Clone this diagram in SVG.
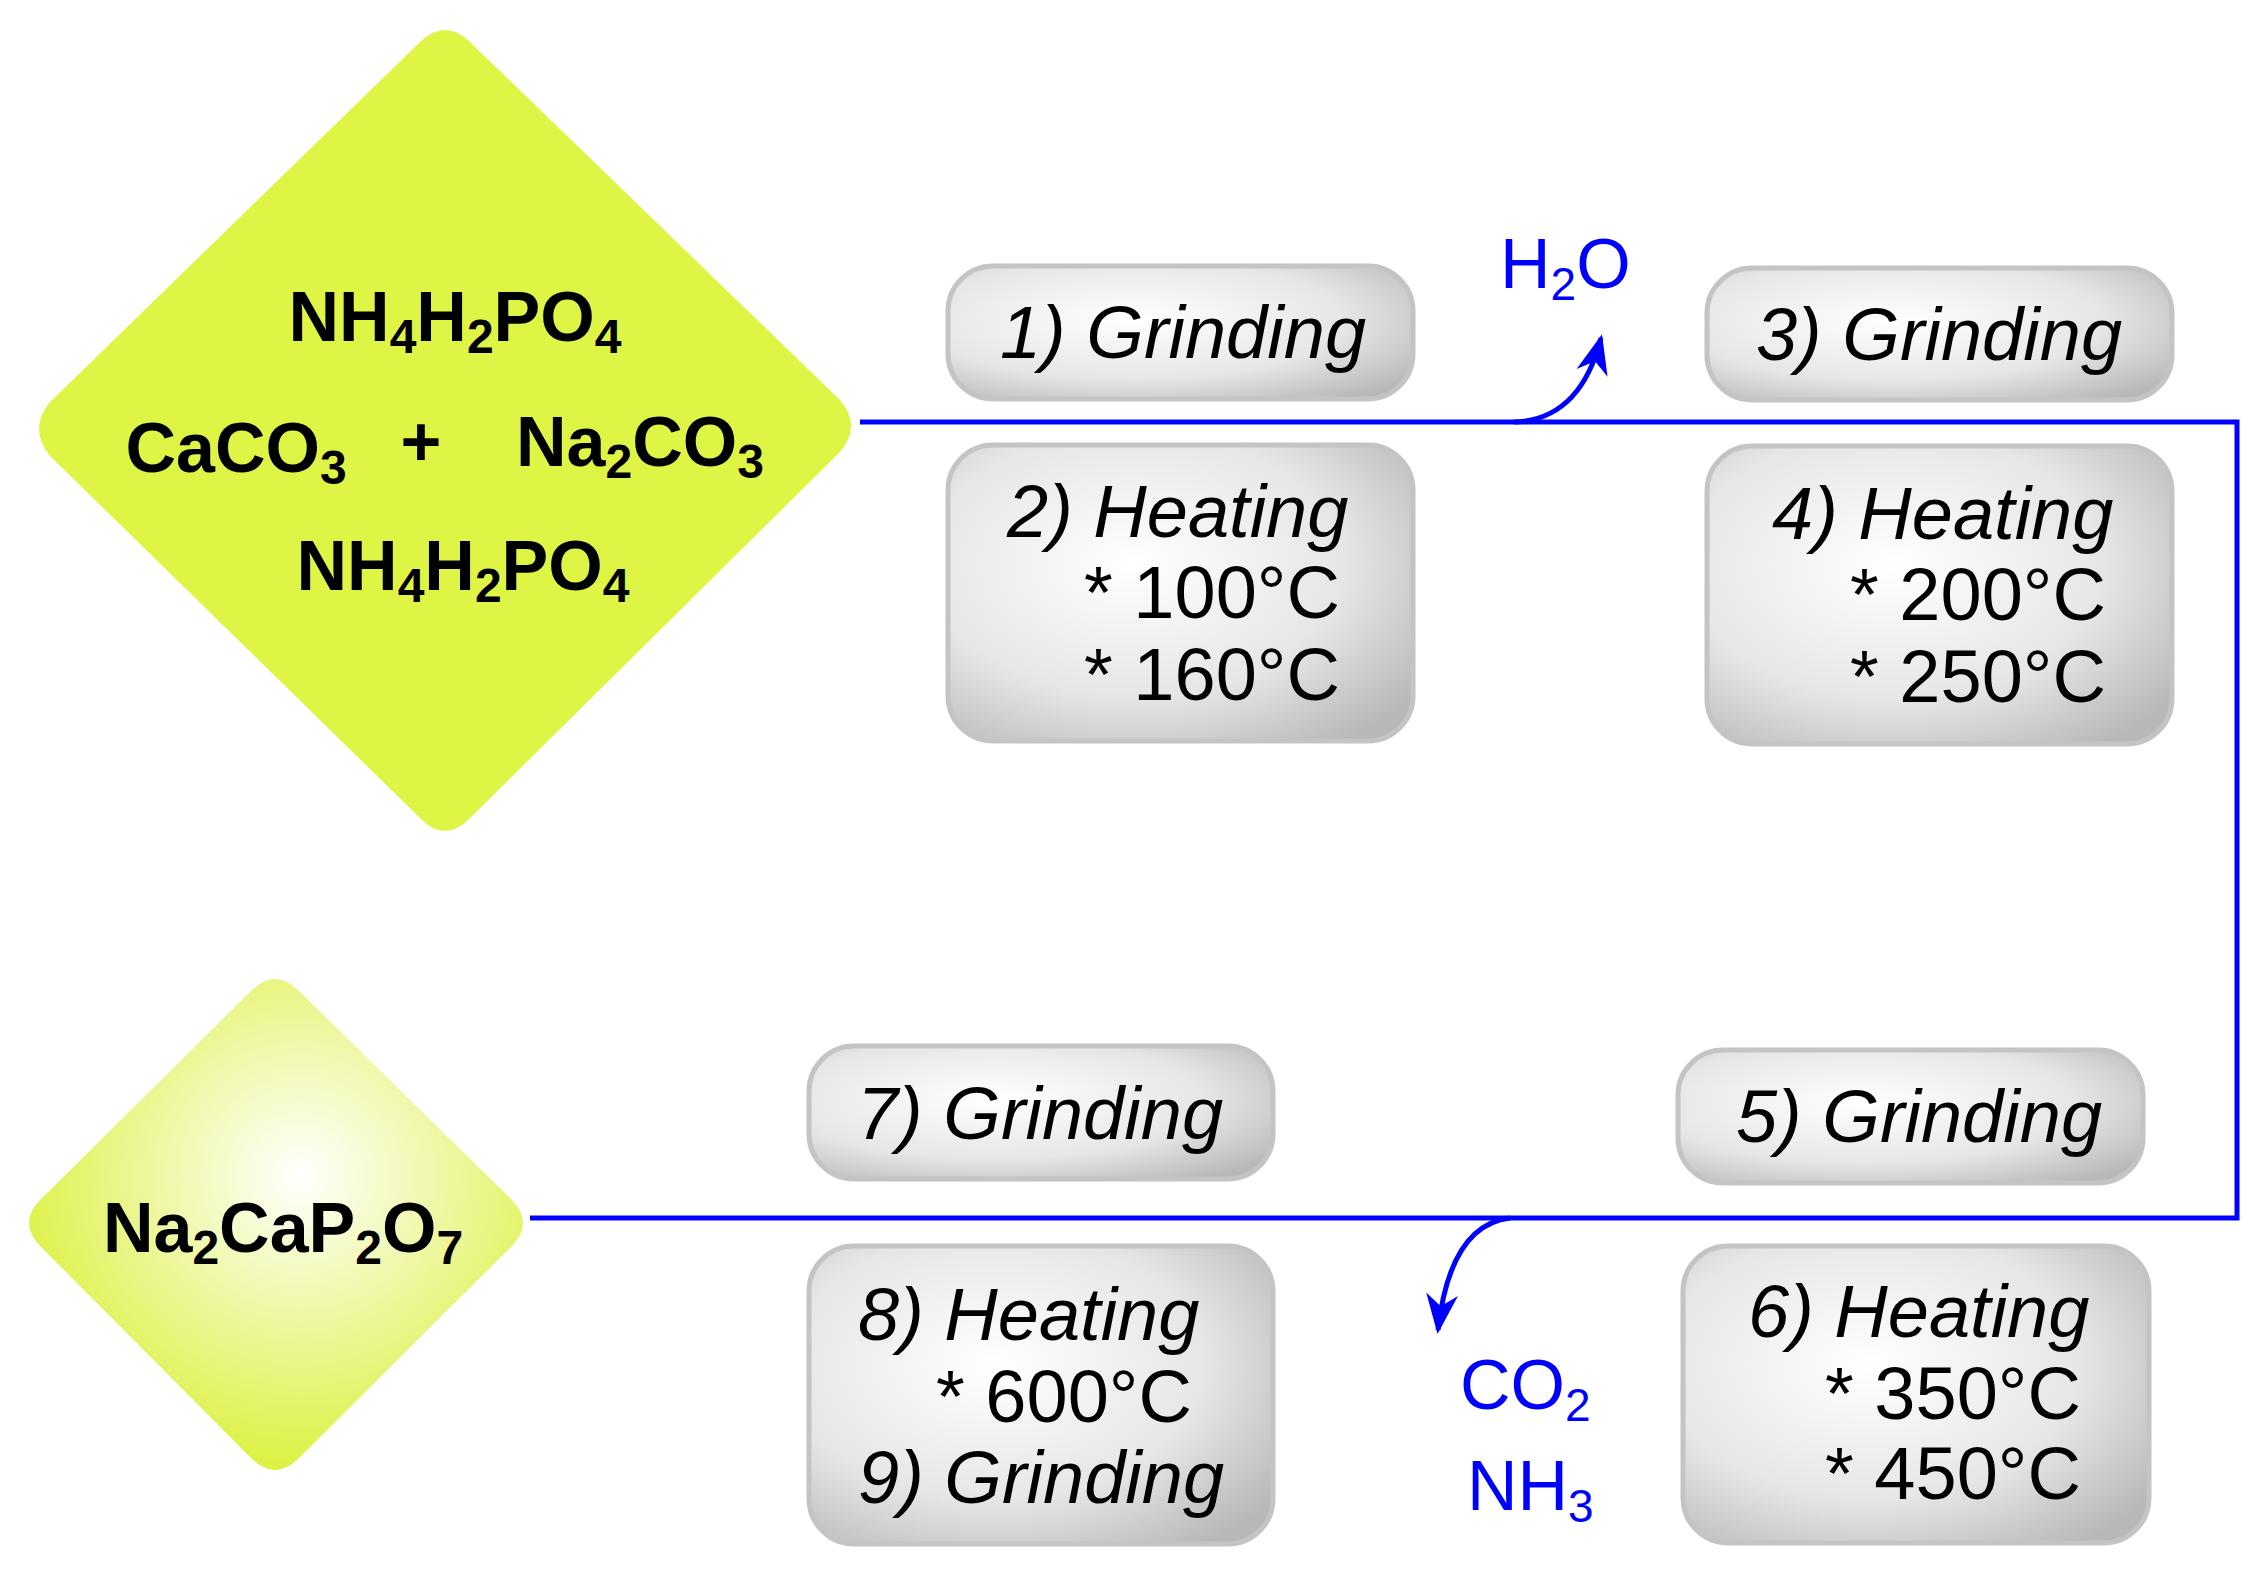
<svg xmlns="http://www.w3.org/2000/svg" width="2266" height="1583" viewBox="0 0 2266 1583">
<defs>
<radialGradient id="boxg" cx="0.4" cy="0.4" r="0.75">
<stop offset="0" stop-color="#ffffff"/><stop offset="0.6" stop-color="#e6e6e6"/><stop offset="1" stop-color="#b8b8b8"/>
</radialGradient>
<radialGradient id="dg" cx="0.55" cy="0.4" r="0.6">
<stop offset="0" stop-color="#ffffff"/><stop offset="0.5" stop-color="#eef7a0"/><stop offset="1" stop-color="#dcf140"/>
</radialGradient>
<marker id="ah" viewBox="0 0 10 10" refX="9" refY="5" markerWidth="10" markerHeight="8" orient="auto" markerUnits="strokeWidth">
<path d="M0,1 L10,5 L0,9 L3,5 Z" fill="#0000ff"/>
</marker>
<style>
.box{fill:url(#boxg);stroke:#c4c4c4;stroke-width:5}
.t{font-family:"Liberation Sans",Arial,sans-serif;font-style:italic;font-size:74px;fill:#000}
.n{font-family:"Liberation Sans",Arial,sans-serif;font-size:74px;fill:#000}
.b{font-family:"Liberation Sans",Arial,sans-serif;font-weight:bold;font-size:70px;fill:#000}
.bl{font-family:"Liberation Sans",Arial,sans-serif;font-size:70px;fill:#0000ff}
.ln{fill:none;stroke:#0000ff;stroke-width:5}
</style>
</defs>
<g id="start">
<path d="M420,42 Q445,18 470,42 L840,400 Q862,426 840,452 L470,818 Q445,844 420,818 L50,456 Q28,429 50,402 Z" fill="#dff545"/>
<text class="b" x="455" y="341" text-anchor="middle">NH<tspan font-size="48" dy="12">4</tspan><tspan dy="-12">H</tspan><tspan font-size="48" dy="12">2</tspan><tspan dy="-12">PO</tspan><tspan font-size="48" dy="12">4</tspan></text>
<text class="b" x="236" y="472" text-anchor="middle">CaCO<tspan font-size="48" dy="12">3</tspan></text>
<text class="b" x="421" y="466" text-anchor="middle">+</text>
<text class="b" x="640" y="466" text-anchor="middle">Na<tspan font-size="48" dy="12">2</tspan><tspan dy="-12">CO</tspan><tspan font-size="48" dy="12">3</tspan></text>
<text class="b" x="463" y="590" text-anchor="middle">NH<tspan font-size="48" dy="12">4</tspan><tspan dy="-12">H</tspan><tspan font-size="48" dy="12">2</tspan><tspan dy="-12">PO</tspan><tspan font-size="48" dy="12">4</tspan></text>
</g>
<g id="product">
<path d="M252,990 Q275,968 298,990 L512,1200 Q534,1223 512,1246 L298,1459 Q275,1481 252,1459 L40,1246 Q18,1223 40,1200 Z" fill="url(#dg)"/>
<text class="b" x="283" y="1252" text-anchor="middle">Na<tspan font-size="48" dy="12">2</tspan><tspan dy="-12">CaP</tspan><tspan font-size="48" dy="12">2</tspan><tspan dy="-12">O</tspan><tspan font-size="48" dy="12">7</tspan></text>
</g>
<g id="connectors">
<polyline class="ln" points="860,422 2237,422 2237,1218 530,1218"/>
<path class="ln" d="M1514,422 Q1580,420 1601,338" marker-end="url(#ah)"/>
<path class="ln" d="M1510,1218 Q1450,1225 1438,1330" marker-end="url(#ah)"/>
</g>
<g id="h2o"><text class="bl" x="1500" y="288">H<tspan font-size="46" dy="12">2</tspan><tspan dy="-12">O</tspan></text></g>
<g id="co2"><text class="bl" x="1460" y="1409">CO<tspan font-size="46" dy="12">2</tspan></text>
<text class="bl" x="1467" y="1510">NH<tspan font-size="46" dy="12">3</tspan></text></g>
<g id="s1"><rect class="box" x="948" y="266" width="465" height="133" rx="45"/><text class="t" x="1183" y="358" text-anchor="middle">1) Grinding</text></g>
<g id="s2"><rect class="box" x="948" y="445" width="465" height="296" rx="45"/><text class="t" x="1007" y="537">2) Heating</text><text class="n" x="1084" y="618">* 100°C</text><text class="n" x="1084" y="700">* 160°C</text></g>
<g id="s3"><rect class="box" x="1707" y="268" width="465" height="132" rx="45"/><text class="t" x="1939" y="360" text-anchor="middle">3) Grinding</text></g>
<g id="s4"><rect class="box" x="1707" y="446" width="465" height="298" rx="45"/><text class="t" x="1772" y="539">4) Heating</text><text class="n" x="1850" y="620">* 200°C</text><text class="n" x="1850" y="702">* 250°C</text></g>
<g id="s5"><rect class="box" x="1678" y="1050" width="465" height="133" rx="45"/><text class="t" x="1919" y="1142" text-anchor="middle">5) Grinding</text></g>
<g id="s6"><rect class="box" x="1683" y="1246" width="466" height="297" rx="45"/><text class="t" x="1748" y="1337">6) Heating</text><text class="n" x="1825" y="1419">* 350°C</text><text class="n" x="1825" y="1499">* 450°C</text></g>
<g id="s7"><rect class="box" x="809" y="1046" width="464" height="133" rx="45"/><text class="t" x="1040" y="1139" text-anchor="middle">7) Grinding</text></g>
<g id="s8"><rect class="box" x="809" y="1246" width="464" height="298" rx="45"/><text class="t" x="858" y="1340">8) Heating</text><text class="n" x="936" y="1422">* 600°C</text><text class="t" x="858" y="1503">9) Grinding</text></g>
</svg>
